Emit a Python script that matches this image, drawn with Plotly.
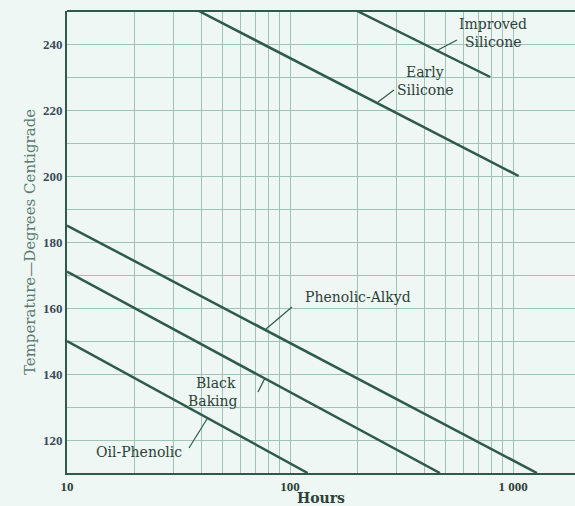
import plotly.graph_objects as go

# ---- data (hours, temperature °C) ----
series_names = ["Oil-Phenolic", "Black Baking", "Phenolic-Alkyd", "Early Silicone", "Improved Silicone"]
oil_phenolic_hours = [10, 120]
oil_phenolic_temp = [150, 110]
black_baking_hours = [10, 470]
black_baking_temp = [171, 110]
phenolic_alkyd_hours = [10, 1280]
phenolic_alkyd_temp = [185, 110]
early_silicone_hours = [39, 1060]
early_silicone_temp = [250, 200]
improved_silicone_hours = [200, 790]
improved_silicone_temp = [250, 230]

hour_ticks = [10, 20, 30, 40, 50, 60, 70, 80, 90,
              100, 200, 300, 400, 500, 600, 700, 800, 900,
              1000, 2000]
hour_tick_labels = ["10", "", "", "", "", "", "", "", "",
                    "100", "", "", "", "", "", "", "", "",
                    "1 000", ""]
temp_ticks = [110, 120, 130, 140, 150, 160, 170, 180, 190, 200, 210, 220, 230, 240, 250]
temp_tick_labels = ["", "120", "", "140", "", "160", "", "180", "", "200", "", "220", "", "240", ""]

BG = "#eef7f3"
GRID = "#9fc3b6"
INK = "#2e5a4b"
TEXT = "#2c4139"
SERIF = "Liberation Serif, DejaVu Serif, serif"
WIDE_SERIF = "DejaVu Serif, Liberation Serif, serif"

W, H = 575, 506
L, R, T, B = 67, 0, 11, 33
PW, PH = W - L - R, H - T - B

def px(x):
    return (x - L) / PW

def py(y):
    return (H - B - y) / PH

fig = go.Figure()
for hx, ty in [(oil_phenolic_hours, oil_phenolic_temp),
               (black_baking_hours, black_baking_temp),
               (phenolic_alkyd_hours, phenolic_alkyd_temp),
               (early_silicone_hours, early_silicone_temp),
               (improved_silicone_hours, improved_silicone_temp)]:
    fig.add_trace(go.Scatter(x=hx, y=ty, mode="lines",
                             line=dict(color=INK, width=2.5),
                             showlegend=False, hoverinfo="skip", cliponaxis=True))

# curve labels (pixel positions)
labels = [
    ("Improved", 493, 24),
    ("Silicone", 493, 42),
    ("Early", 425, 72),
    ("Silicone", 425, 90),
    (series_names[2], 358, 297),
    ("Black", 216, 383),
    ("Baking", 213, 401),
    (series_names[0], 139, 452),
]
for txt, x, y in labels:
    fig.add_annotation(text=txt, x=px(x), y=py(y), xref="paper", yref="paper",
                       showarrow=False, xanchor="center", yanchor="middle",
                       font=dict(family=WIDE_SERIF, size=14, color=TEXT))

leaders = [
    (457, 40, 436, 51),
    (394, 90, 378, 102),
    (292, 307, 266, 329),
    (265, 378, 258, 392),
    (189, 448, 207, 419),
]
for x0, y0, x1, y1 in leaders:
    fig.add_shape(type="line", xref="paper", yref="paper",
                  x0=px(x0), y0=py(y0), x1=px(x1), y1=py(y1),
                  line=dict(color=INK, width=1.2))

# top border
fig.add_shape(type="line", xref="paper", yref="paper", x0=0, x1=1, y0=1, y1=1,
              line=dict(color=INK, width=2))

fig.update_layout(
    width=W, height=H, autosize=False,
    margin=dict(l=L, r=R, t=T, b=B),
    plot_bgcolor=BG, paper_bgcolor=BG,
    xaxis=dict(type="log", range=[1, 1 + (575 - 67) / 223],
               tickvals=hour_ticks, ticktext=hour_tick_labels,
               showgrid=True, gridcolor=GRID, gridwidth=1.3,
               showline=True, linecolor=INK, linewidth=2,
               zeroline=False, ticks="",
               tickfont=dict(family=SERIF, size=13, color=TEXT, weight="bold"),
               title=dict(text="<b>Hours</b>", standoff=0,
                          font=dict(family=WIDE_SERIF, size=14, color=TEXT))),
    yaxis=dict(range=[110, 250],
               tickvals=temp_ticks, ticktext=temp_tick_labels,
               showgrid=True, gridcolor=GRID, gridwidth=1.3,
               showline=True, linecolor=INK, linewidth=2,
               zeroline=False, ticks="",
               tickfont=dict(family=SERIF, size=13, color="#3b4a5a", weight="bold"),
               title=dict(text="Temperature—Degrees Centigrade", standoff=4,
                          font=dict(family=WIDE_SERIF, size=15, color="#5a7a70"))),
)

fig.write_html("out.html",
               config={"displayModeBar": False},
               post_script="document.body.style.margin='0';"
                           "document.body.style.padding='0';"
                           "document.body.style.overflow='hidden';"
                           "document.body.style.background='" + BG + "';")
